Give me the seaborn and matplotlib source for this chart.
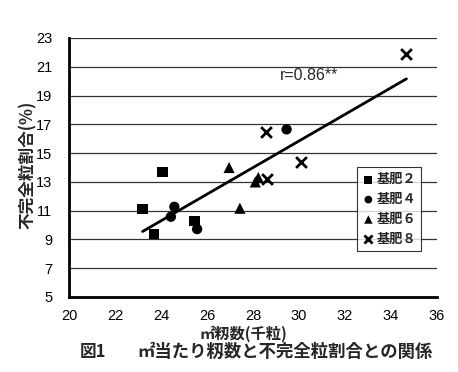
import numpy as np
import pandas as pd
import matplotlib
matplotlib.use("Agg")
import matplotlib.pyplot as plt
import seaborn as sns

sns.set_style("white")
plt.rcParams['font.family'] = ['Liberation Sans', 'Noto Sans CJK JP', 'DejaVu Sans']

groups = ["基肥２", "基肥４", "基肥６", "基肥８"]
x_k2 = [23.2, 24.07, 23.7, 25.46]
y_k2 = [11.1, 13.68, 9.4, 10.3]
x_k4 = [24.58, 24.43, 25.57, 29.46]
y_k4 = [11.27, 10.58, 9.72, 16.65]
x_k6 = [26.96, 27.43, 28.23, 28.1]
y_k6 = [14.0, 11.17, 13.3, 13.0]
x_k8 = [28.57, 30.1, 28.6, 34.67]
y_k8 = [16.5, 14.4, 13.17, 21.9]

xs = [x_k2, x_k4, x_k6, x_k8]
ys = [y_k2, y_k4, y_k6, y_k8]
df = pd.DataFrame({
    "x": sum(xs, []),
    "y": sum(ys, []),
    "g": sum([[g] * len(v) for g, v in zip(groups, xs)], []),
})

xticks = [20, 22, 24, 26, 28, 30, 32, 34, 36]
yticks = [5, 7, 9, 11, 13, 15, 17, 19, 21, 23]

fig = plt.figure(figsize=(4.58, 3.72), dpi=100)
ax = fig.add_axes([69/458, 1-297/372, (437-69)/458, (297-38)/372])

markers = dict(zip(groups, ["s", "o", "^", "x"]))
sns.regplot(data=df, x="x", y="y", scatter=False, ci=None, ax=ax,
            line_kws=dict(color="black", lw=2))
for g in groups:
    sub = df[df.g == g]
    if markers[g] == "x":
        ax.scatter(sub.x, sub.y, marker="x", s=60, color="black", linewidths=2, label=g, zorder=3)
    else:
        ax.scatter(sub.x, sub.y, marker=markers[g], s=55 if markers[g] != "^" else 65,
                   color="black", edgecolors="none", label=g, zorder=3)

ax.set_xlim(20, 36)
ax.set_ylim(5, 23)
ax.set_xticks(xticks)
ax.set_yticks(yticks)
ax.yaxis.grid(True, color="#333333", lw=0.9)
ax.xaxis.grid(False)
for s in ["top", "right"]:
    ax.spines[s].set_visible(False)
for s in ["left", "bottom"]:
    ax.spines[s].set_color("black")
    ax.spines[s].set_linewidth(2)
ax.tick_params(axis="x", direction="in", length=5, width=1.5, labelsize=10.5, pad=9, colors="black")
ax.tick_params(axis="y", direction="inout", length=6, width=1.5, labelsize=10.5, pad=9, colors="black")
ax.set_xlabel("")
ax.set_ylabel("")

ax.text(30.43, 20.4, "r=0.86**", fontsize=11.5, ha="center", va="center")

leg = ax.legend(loc="upper left", bbox_to_anchor=(0.783, 0.50), frameon=True, fancybox=False,
                edgecolor="black", handletextpad=0.1, borderpad=0.35,
                labelspacing=0.45, handlelength=1.0, borderaxespad=0, markerscale=0.75,
                prop=dict(family=['Noto Sans CJK JP'], weight='bold', size=9.5))
leg.get_frame().set_linewidth(0.8)

fig.text(28/458, 1-165/372, "不完全粒割合(%)", rotation=90, ha="center", va="center",
         fontsize=12, fontweight="bold", family=['Noto Sans CJK JP', 'DejaVu Sans'])
fig.text(243/458, 1-334/372, "㎡籾数(千粒)", ha="center", va="center",
         fontsize=11, fontweight="bold", family=['Noto Sans CJK JP', 'DejaVu Sans'])
fig.text(80/458, 1-352/372, "図1", ha="left", va="center",
         fontsize=12, fontweight="bold", family=['Noto Sans CJK JP', 'DejaVu Sans'])
fig.text(137/458, 1-352/372, "㎡当たり籾数と不完全粒割合との関係", ha="left", va="center",
         fontsize=12.5, fontweight="bold", family=['Noto Sans CJK JP', 'DejaVu Sans'])

fig.savefig("out.png", dpi=100, facecolor="white")
